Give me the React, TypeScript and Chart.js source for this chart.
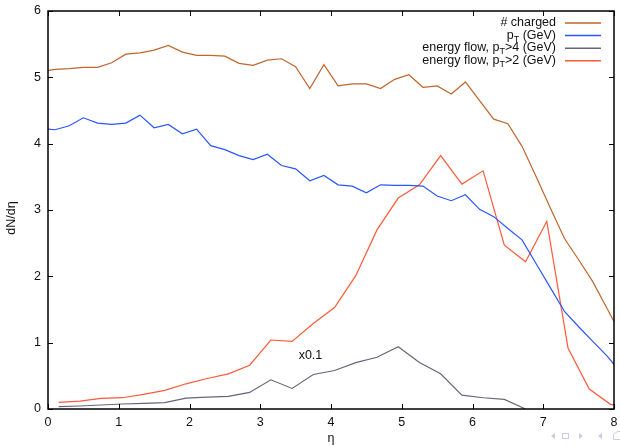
import React, { useEffect, useRef } from "react";
import { Chart, registerables } from "chart.js";

Chart.register(...registerables);

// η positions of the fine-binned series (step 0.2)
const etaFine = [
  -0.1, 0.1, 0.3, 0.5, 0.7, 0.9, 1.1, 1.3, 1.5, 1.7, 1.9, 2.1, 2.3, 2.5, 2.7, 2.9,
  3.1, 3.3, 3.5, 3.7, 3.9, 4.1, 4.3, 4.5, 4.7, 4.9, 5.1, 5.3, 5.5, 5.7, 5.9, 6.1,
  6.3, 6.5, 6.7, 6.9, 7.1, 7.3, 7.5, 7.7, 7.9, 8.1,
];
// η positions of the coarse-binned series (step 0.3)
const etaCoarse = [
  0.15, 0.45, 0.75, 1.05, 1.35, 1.65, 1.95, 2.25, 2.55, 2.85, 3.15, 3.45, 3.75, 4.05,
  4.35, 4.65, 4.95, 5.25, 5.55, 5.85, 6.15, 6.45, 6.75, 7.05, 7.35, 7.65, 7.95, 8.25,
];
const charged = [
  5.08, 5.12, 5.13, 5.15, 5.15, 5.22, 5.35, 5.37, 5.41, 5.48, 5.38, 5.33, 5.33, 5.32,
  5.21, 5.18, 5.26, 5.28, 5.16, 4.83, 5.19, 4.87, 4.9, 4.9, 4.83, 4.97, 5.04, 4.85,
  4.87, 4.75, 4.93, 4.65, 4.37, 4.3, 3.96, 3.5, 3.03, 2.57, 2.25, 1.92, 1.52, 1.12,
];
const ptSum = [
  4.23, 4.21, 4.27, 4.39, 4.31, 4.29, 4.31, 4.43, 4.24, 4.29, 4.15, 4.22, 3.97, 3.91,
  3.82, 3.76, 3.84, 3.67, 3.62, 3.44, 3.52, 3.38, 3.36, 3.26, 3.38, 3.37, 3.37, 3.36,
  3.21, 3.14, 3.23, 3.01, 2.9, 2.72, 2.55, 2.19, 1.83, 1.47, 1.24, 1.02, 0.8, 0.55,
];
const flowPt4 = [
  0.035, 0.045, 0.06, 0.075, 0.085, 0.095, 0.165, 0.18, 0.19, 0.25, 0.44, 0.31, 0.52,
  0.58, 0.7, 0.78, 0.94, 0.7, 0.53, 0.21, 0.17, 0.145, 0.0,
];
const flowPt2 = [
  0.1, 0.12, 0.16, 0.17, 0.22, 0.28, 0.38, 0.46, 0.53, 0.66, 1.04, 1.02, 1.29, 1.53,
  2.01, 2.7, 3.18, 3.38, 3.82, 3.39, 3.59, 2.47, 2.22, 2.83, 0.92, 0.3, 0.07, 0.03,
];

const xTicks = [0, 1, 2, 3, 4, 5, 6, 7, 8];
const yTicks = [0, 1, 2, 3, 4, 5, 6];

const colCharged = "#c0662c";
const colPt = "#2a55ff";
const colPt4 = "#66667a";
const colPt2 = "#ff5a3a";

const legendEntries = [
  { color: colCharged, parts: [{ t: "# charged" }] },
  { color: colPt, parts: [{ t: "p" }, { t: "T", sub: true }, { t: " (GeV)" }] },
  { color: colPt4, parts: [{ t: "energy flow, p" }, { t: "T", sub: true }, { t: ">4 (GeV)" }] },
  { color: colPt2, parts: [{ t: "energy flow, p" }, { t: "T", sub: true }, { t: ">2 (GeV)" }] },
];

const scaleNote = { text: "x0.1", x: 3.71, y: 0.8 };
const xTitle = "η";
const yTitle = "dN/dη";

const FONT = "Liberation Sans, Arial, Helvetica, sans-serif";
const FS = 12.5;

const overlay = {
  id: "overlay",
  afterDraw(chart: any) {
    const { ctx, chartArea: a, scales } = chart;
    const xs = scales.x;
    const ys = scales.y;
    ctx.save();
    // inward ticks on all four sides
    ctx.strokeStyle = "#000";
    ctx.lineWidth = 1;
    ctx.beginPath();
    for (const v of xTicks) {
      const px = Math.round(xs.getPixelForValue(v)) + 0.5;
      ctx.moveTo(px, a.bottom);
      ctx.lineTo(px, a.bottom - 5);
      ctx.moveTo(px, a.top);
      ctx.lineTo(px, a.top + 5);
    }
    for (const v of yTicks) {
      const py = Math.round(ys.getPixelForValue(v)) + 0.5;
      ctx.moveTo(a.left, py);
      ctx.lineTo(a.left + 5, py);
      ctx.moveTo(a.right, py);
      ctx.lineTo(a.right - 5, py);
    }
    ctx.stroke();
    // border
    ctx.lineWidth = 1.5;
    ctx.strokeRect(a.left, a.top, a.right - a.left, a.bottom - a.top);

    // scale note for the pT>4 curve
    ctx.fillStyle = "#111";
    ctx.font = `${FS}px ${FONT}`;
    ctx.textAlign = "center";
    ctx.textBaseline = "middle";
    ctx.fillText(scaleNote.text, xs.getPixelForValue(scaleNote.x), ys.getPixelForValue(scaleNote.y));

    // legend (gnuplot style: right-aligned text, then sample line)
    const textRight = a.right - 58;
    const sx0 = a.right - 49;
    const sx1 = a.right - 13;
    legendEntries.forEach((e, i) => {
      const y = a.top + 11.5 + i * 12.6;
      let w = 0;
      for (const p of e.parts) {
        ctx.font = `${p.sub ? 9 : FS}px ${FONT}`;
        w += ctx.measureText(p.t).width;
      }
      let x = textRight - w;
      ctx.textAlign = "left";
      ctx.textBaseline = "middle";
      ctx.fillStyle = "#111";
      for (const p of e.parts) {
        ctx.font = `${p.sub ? 9 : FS}px ${FONT}`;
        ctx.fillText(p.t, x, p.sub ? y + 4 : y);
        x += ctx.measureText(p.t).width;
      }
      ctx.strokeStyle = e.color;
      ctx.lineWidth = 1.5;
      ctx.beginPath();
      ctx.moveTo(sx0, y + 0.5);
      ctx.lineTo(sx1, y + 0.5);
      ctx.stroke();
    });

    // axis titles
    ctx.fillStyle = "#111";
    ctx.font = `${FS}px ${FONT}`;
    ctx.textAlign = "center";
    ctx.textBaseline = "alphabetic";
    ctx.fillText(xTitle, (a.left + a.right) / 2, 442);
    ctx.save();
    ctx.translate(15, 218);
    ctx.rotate(-Math.PI / 2);
    ctx.fillText(yTitle, 0, 0);
    ctx.restore();

    // beamer navigation symbols
    ctx.fillStyle = "#c9cce6";
    ctx.strokeStyle = "#c9cce6";
    ctx.lineWidth = 1;
    const tri = (cx: number, cy: number, dir: number) => {
      ctx.beginPath();
      ctx.moveTo(cx - 2 * dir, cy);
      ctx.lineTo(cx + 2 * dir, cy - 3);
      ctx.lineTo(cx + 2 * dir, cy + 3);
      ctx.closePath();
      ctx.fill();
    };
    tri(553, 436, 1);
    ctx.strokeRect(562.5, 433.5, 6, 5);
    tri(581, 436, -1);
    tri(600, 436, 1);
    ctx.beginPath();
    ctx.moveTo(613.5, 439.5);
    ctx.lineTo(613.5, 434.5);
    ctx.lineTo(617.5, 431.5);
    ctx.lineTo(620, 431.5);
    ctx.moveTo(613.5, 439.5);
    ctx.lineTo(620, 439.5);
    ctx.stroke();

    ctx.restore();
  },
};

export default function App() {
  const ref = useRef<HTMLCanvasElement | null>(null);
  useEffect(() => {
    if (!ref.current) return;
    const mk = (xsArr: number[], ys: number[]) => ys.map((v, i) => ({ x: xsArr[i], y: v }));
    const ds = (label: string, data: any[], color: string) => ({
      label,
      data,
      borderColor: color,
      backgroundColor: color,
      borderWidth: 1.2,
      pointRadius: 0,
      tension: 0,
      fill: false,
    });
    const chart = new Chart(ref.current, {
      type: "line",
      data: {
        datasets: [
          ds("# charged", mk(etaFine, charged), colCharged),
          ds("pT (GeV)", mk(etaFine, ptSum), colPt),
          ds("energy flow, pT>4 (GeV)", mk(etaCoarse, flowPt4), colPt4),
          ds("energy flow, pT>2 (GeV)", mk(etaCoarse, flowPt2), colPt2),
        ],
      },
      options: {
        animation: false,
        responsive: true,
        maintainAspectRatio: false,
        devicePixelRatio: 1,
        layout: { padding: { left: 0, right: 6, top: 11, bottom: 0 } },
        plugins: { legend: { display: false }, tooltip: { enabled: false } },
        scales: {
          x: {
            type: "linear",
            min: 0,
            max: 8,
            grid: { display: false, drawTicks: false },
            border: { display: false },
            ticks: {
              stepSize: 1,
              padding: 6,
              color: "#111",
              font: { family: FONT, size: FS },
            },
            afterFit: (s: any) => {
              s.height = 37;
              s.paddingLeft = 0;
              s.paddingRight = 0;
            },
          },
          y: {
            type: "linear",
            min: 0,
            max: 6,
            grid: { display: false, drawTicks: false },
            border: { display: false },
            ticks: {
              stepSize: 1,
              padding: 7,
              color: "#111",
              font: { family: FONT, size: FS },
            },
            afterFit: (s: any) => {
              s.width = 48;
              s.paddingTop = 0;
              s.paddingBottom = 0;
            },
          },
        },
      },
      plugins: [overlay],
    });
    return () => chart.destroy();
  }, []);
  return (
    <div style={{ position: "fixed", left: 0, top: 0, width: 620, height: 446, background: "#fff" }}>
      <canvas ref={ref} />
    </div>
  );
}
